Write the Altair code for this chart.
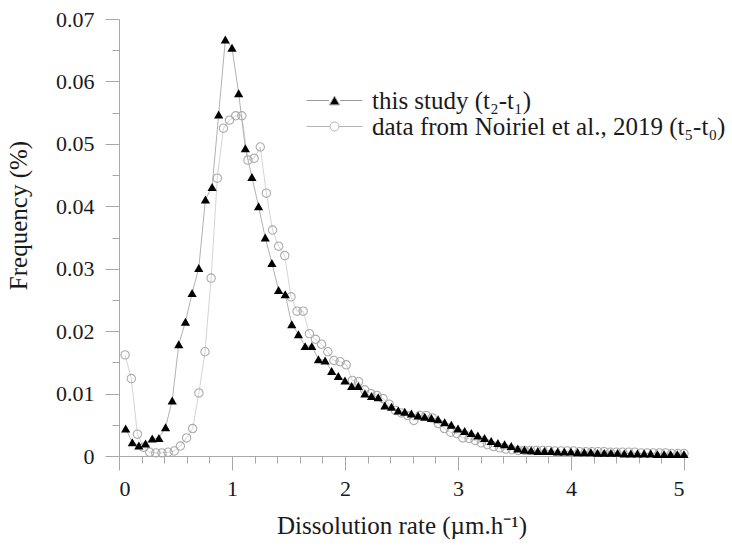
import altair as alt
import pandas as pd

# ---- data ----
tri_rate = [0.059, 0.118, 0.176, 0.235, 0.294, 0.353, 0.412, 0.471, 0.529, 0.588,
            0.647, 0.706, 0.765, 0.824, 0.882, 0.941, 1.000, 1.059, 1.118, 1.176,
            1.235, 1.294, 1.353, 1.412, 1.471, 1.529, 1.588, 1.647, 1.706, 1.765,
            1.824, 1.882, 1.941, 2.000, 2.059, 2.118, 2.176, 2.235, 2.294, 2.353,
            2.412, 2.471, 2.529, 2.588, 2.647, 2.706, 2.765, 2.824, 2.882, 2.941,
            3.000, 3.059, 3.118, 3.176, 3.235, 3.294, 3.353, 3.412, 3.471, 3.529,
            3.588, 3.647, 3.706, 3.765, 3.824, 3.882, 3.941, 4.000, 4.059, 4.118,
            4.176, 4.235, 4.294, 4.353, 4.412, 4.471, 4.529, 4.588, 4.647, 4.706,
            4.765, 4.824, 4.882, 4.941, 5.000]
tri_freq = [0.0044, 0.0022, 0.0017, 0.0020, 0.0028, 0.0029, 0.0046, 0.0089, 0.0179, 0.0215,
            0.0261, 0.0301, 0.0411, 0.0431, 0.0547, 0.0667, 0.0654, 0.0581, 0.0493, 0.0447,
            0.0400, 0.0350, 0.0309, 0.0266, 0.0259, 0.0211, 0.0195, 0.0176, 0.0176, 0.0155,
            0.0153, 0.0136, 0.0128, 0.0121, 0.0112, 0.0112, 0.0100, 0.0096, 0.0094, 0.0081,
            0.0079, 0.0073, 0.0071, 0.0068, 0.0065, 0.0063, 0.0061, 0.0059, 0.0054, 0.0050,
            0.0044, 0.0040, 0.0037, 0.0033, 0.0029, 0.0024, 0.0021, 0.0019, 0.0016, 0.0012,
            0.0010, 0.0009, 0.0008, 0.0008, 0.0008, 0.0007, 0.0007, 0.0007, 0.0006, 0.0006,
            0.0006, 0.0005, 0.0005, 0.0005, 0.0005, 0.0004, 0.0004, 0.0004, 0.0004, 0.0004,
            0.0003, 0.0003, 0.0003, 0.0003, 0.0003]

cir_rate = [0.054, 0.109, 0.163, 0.217, 0.272, 0.326, 0.380, 0.435, 0.489, 0.543,
            0.598, 0.652, 0.707, 0.761, 0.815, 0.870, 0.924, 0.978, 1.033, 1.087,
            1.141, 1.196, 1.250, 1.304, 1.359, 1.413, 1.467, 1.522, 1.576, 1.630,
            1.685, 1.739, 1.793, 1.848, 1.902, 1.957, 2.011, 2.065, 2.120, 2.174,
            2.228, 2.283, 2.337, 2.391, 2.446, 2.500, 2.554, 2.609, 2.663, 2.717,
            2.772, 2.826, 2.880, 2.935, 2.989, 3.043, 3.098, 3.152, 3.207, 3.261,
            3.315, 3.370, 3.424, 3.478, 3.533, 3.587, 3.641, 3.696, 3.750, 3.804,
            3.859, 3.913, 3.967, 4.022, 4.076, 4.130, 4.185, 4.239, 4.293, 4.348,
            4.402, 4.457, 4.511, 4.565, 4.620, 4.674, 4.728, 4.783, 4.837, 4.891,
            4.946, 5.000]
cir_freq = [0.0162, 0.0124, 0.0035, 0.0014, 0.0006, 0.0005, 0.0005, 0.0006, 0.0008, 0.0016,
            0.0029, 0.0044, 0.0101, 0.0167, 0.0285, 0.0445, 0.0525, 0.0538, 0.0545, 0.0545,
            0.0474, 0.0477, 0.0495, 0.0421, 0.0362, 0.0336, 0.0321, 0.0255, 0.0232, 0.0232,
            0.0196, 0.0187, 0.0179, 0.0167, 0.0153, 0.0151, 0.0146, 0.0121, 0.0119, 0.0106,
            0.0100, 0.0097, 0.0092, 0.0083, 0.0073, 0.0069, 0.0065, 0.0057, 0.0065, 0.0065,
            0.0061, 0.0052, 0.0044, 0.0038, 0.0036, 0.0029, 0.0028, 0.0025, 0.0021, 0.0018,
            0.0015, 0.0013, 0.0011, 0.0010, 0.0009, 0.0009, 0.0009, 0.0009, 0.0009, 0.0009,
            0.0008, 0.0008, 0.0008, 0.0008, 0.0007, 0.0007, 0.0007, 0.0007, 0.0007, 0.0006,
            0.0006, 0.0006, 0.0006, 0.0006, 0.0005, 0.0005, 0.0005, 0.0005, 0.0005, 0.0004,
            0.0004, 0.0004]

series_names = ["this study (t\u2082-t\u2081)", "data from Noiriel et al., 2019 (t\u2085-t\u2080)"]

x_major = [0, 1, 2, 3, 4, 5]
x_minor = [0.2, 0.4, 0.6, 0.8, 1.2, 1.4, 1.6, 1.8, 2.2, 2.4, 2.6, 2.8,
           3.2, 3.4, 3.6, 3.8, 4.2, 4.4, 4.6, 4.8]
y_major = [0, 0.01, 0.02, 0.03, 0.04, 0.05, 0.06, 0.07]
y_minor = [0.005, 0.015, 0.025, 0.035, 0.045, 0.055, 0.065]

df_tri = pd.DataFrame({"rate": tri_rate, "freq": tri_freq, "series": series_names[0]})
df_cir = pd.DataFrame({"rate": cir_rate, "freq": cir_freq, "series": series_names[1]})
df_all = pd.concat([df_cir, df_tri], ignore_index=True)

FONT = "Liberation Serif"
xs = alt.Scale(domain=[0, 5], nice=False, zero=False)
ys = alt.Scale(domain=[0, 0.07], nice=False)

x_main_axis = alt.Axis(values=x_major, tickSize=14, format="d", labelFontSize=22,
                       labelPadding=8, title="Dissolution rate (\u00b5m.h\u207b\u00b9)",
                       titleFontSize=25, titlePadding=14, orient="bottom")
x_minor_axis = alt.Axis(values=x_minor, tickSize=7, labels=False, domain=False,
                        title=None, orient="bottom")
y_main_axis = alt.Axis(values=y_major, tickSize=14,
                       labelExpr="datum.value == 0 ? '0' : format(datum.value, '.2f')",
                       labelFontSize=22, labelPadding=11, title="Frequency (%)",
                       titleFontSize=25, titlePadding=24, titleY=196, orient="left")
y_minor_axis = alt.Axis(values=y_minor, tickSize=7, labels=False, domain=False,
                        title=None, orient="left")

cir_line = alt.Chart(df_cir).mark_line(color="#cfcfcf", strokeWidth=0.9).encode(
    x=alt.X("rate:Q", scale=xs, axis=x_minor_axis),
    y=alt.Y("freq:Q", scale=ys, axis=y_minor_axis),
)
cir_pts = alt.Chart(df_cir).mark_point(shape="circle", size=70, filled=False,
                                       color="#ababab", strokeWidth=1.1, opacity=1).encode(
    x=alt.X("rate:Q", scale=xs, axis=None),
    y=alt.Y("freq:Q", scale=ys, axis=None),
)
tri_line = alt.Chart(df_tri).mark_line(color="#a8a8a8", strokeWidth=0.9).encode(
    x=alt.X("rate:Q", scale=xs, axis=x_main_axis),
    y=alt.Y("freq:Q", scale=ys, axis=y_main_axis),
)
tri_pts = alt.Chart(df_tri).mark_point(shape="triangle-up", size=85, filled=True,
                                       color="black", opacity=1).encode(
    x=alt.X("rate:Q", scale=xs, axis=None),
    y=alt.Y("freq:Q", scale=ys, axis=None),
)

tri_path = "M-5.6,0H-1.1M1.1,0H5.6M0,-0.87L1,0.87H-1Z"
cir_path = "M-5.6,0H-0.9M0.9,0H5.6M0.9,0A0.9,0.9,0,1,1,-0.9,0A0.9,0.9,0,1,1,0.9,0Z"

leg = alt.Legend(title=None, orient="none", legendX=203, legendY=69,
                 labelFont=FONT, labelFontSize=25, labelColor="#1a1a1a", labelLimit=0,
                 symbolSize=100, symbolOpacity=1, symbolStrokeWidth=1,
                 labelOffset=25, rowPadding=0, padding=0)

legend_layer = alt.Chart(df_all).mark_point(opacity=0, filled=True, size=10).encode(
    x=alt.X("rate:Q", scale=xs, axis=None),
    y=alt.Y("freq:Q", scale=ys, axis=None),
    shape=alt.Shape("series:N", scale=alt.Scale(domain=series_names, range=[tri_path, cir_path]), legend=leg),
    fill=alt.Fill("series:N", scale=alt.Scale(domain=series_names, range=["black", "white"]), legend=leg),
    stroke=alt.Stroke("series:N", scale=alt.Scale(domain=series_names, range=["#9a9a9a", "#b5b5b5"]), legend=leg),
)

chart = alt.layer(cir_line, cir_pts, tri_line, tri_pts, legend_layer).resolve_axis(
    x="independent", y="independent"
).properties(
    width=565, height=437,
    padding={"left": 119, "top": 19, "right": 48, "bottom": 92},
    autosize=alt.AutoSizeParams(type="none"),
    background="white",
).configure_view(stroke=None).configure_axis(
    grid=False, labelFont=FONT, titleFont=FONT, titleFontWeight="normal",
    domainColor="#a8a8a8", tickColor="#a8a8a8", labelColor="#1a1a1a", titleColor="#1a1a1a",
    domainWidth=1, tickWidth=1,
)

chart.save("out.html", embed_options={"renderer": "svg", "actions": False})
